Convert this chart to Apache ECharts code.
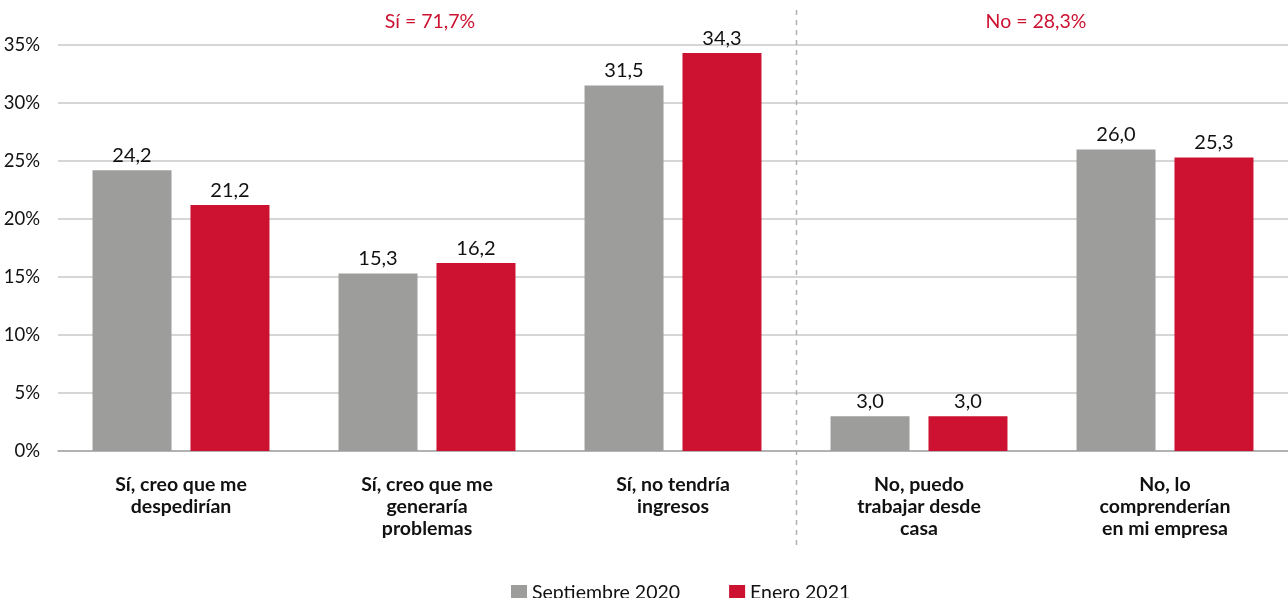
<!DOCTYPE html>
<html>
<head>
<meta charset="utf-8">
<style>
  html, body { margin: 0; padding: 0; background: #fff; }
  #chart { width: 1288px; height: 598px; }
</style>
<script src="https://cdn.jsdelivr.net/npm/echarts@6/dist/echarts.min.js"></script>
</head>
<body>
<div id="chart"></div>
<script>
const categories = [
  'Sí, creo que me\ndespedirían',
  'Sí, creo que me\ngeneraría\nproblemas',
  'Sí, no tendría\ningresos',
  'No, puedo\ntrabajar desde\ncasa',
  'No, lo\ncomprenderían\nen mi empresa'
]
const sept2020 = [24.2, 15.3, 31.5, 3.0, 26.0]
const enero2021 = [21.2, 16.2, 34.3, 3.0, 25.3]
const groupNotes = ['Sí = 71,7%', 'No = 28,3%']

const FONT = 'Lato, "Open Sans", sans-serif'
const GREY = '#9d9d9c'
const RED = '#cc1230'
const GRID = { left: 58, right: 0, top: 45, bottom: 147 }

const chart = echarts.init(document.getElementById('chart'))

const fmt = (p) => p.value.toFixed(1).replace('.', ',')

const option = {
  animation: false,
  textStyle: { fontFamily: FONT },
  grid: GRID,
  legend: {
    top: 578,
    left: 506,
    itemWidth: 16,
    itemHeight: 16,
    itemGap: 49,
    icon: 'rect',
    textStyle: { fontSize: 19.5, color: '#111', fontFamily: FONT },
    data: ['Septiembre 2020', 'Enero 2021']
  },
  xAxis: {
    type: 'category',
    data: categories,
    axisTick: { show: false },
    axisLine: { lineStyle: { color: '#a6a6a6', width: 1.5 } },
    axisLabel: {
      margin: 23,
      fontSize: 19.5,
      fontWeight: 'bold',
      lineHeight: 22,
      color: '#111',
      fontFamily: FONT
    }
  },
  yAxis: {
    type: 'value',
    min: 0,
    max: 35,
    interval: 5,
    axisLabel: {
      formatter: '{value}%',
      fontSize: 18.5,
      color: '#111',
      margin: 18,
      fontFamily: FONT
    },
    splitLine: { lineStyle: { color: '#c8c8c8', width: 1.5 } }
  },
  series: [
    {
      name: 'Septiembre 2020',
      type: 'bar',
      data: sept2020,
      barWidth: 79,
      barGap: '24%',
      itemStyle: { color: GREY },
      label: { show: true, position: 'top', distance: 5, fontSize: 20, color: '#111', formatter: fmt, fontFamily: FONT }
    },
    {
      name: 'Enero 2021',
      type: 'bar',
      data: enero2021,
      barWidth: 79,
      itemStyle: { color: RED },
      label: { show: true, position: 'top', distance: 5, fontSize: 20, color: '#111', formatter: fmt, fontFamily: FONT }
    }
  ]
}
chart.setOption(option)

// separator + group notes, placed from the grid geometry
const W = 1288 - GRID.left - GRID.right
const step = W / categories.length
const sepX = Math.round(GRID.left + 3 * step) + 0.5
chart.setOption({
  graphic: [
    {
      type: 'line',
      shape: { x1: sepX, y1: 10, x2: sepX, y2: 545 },
      style: { stroke: '#b0b0b0', lineWidth: 1.5, lineDash: [5, 5] }
    },
    {
      type: 'text',
      x: GRID.left + 1.5 * step + 3,
      y: 22,
      style: { text: groupNotes[0], fill: RED, fontSize: 19.5, fontFamily: FONT, align: 'center', verticalAlign: 'middle' }
    },
    {
      type: 'text',
      x: GRID.left + 4 * step - 6,
      y: 22,
      style: { text: groupNotes[1], fill: RED, fontSize: 19.5, fontFamily: FONT, align: 'center', verticalAlign: 'middle' }
    }
  ]
})
</script>
</body>
</html>
